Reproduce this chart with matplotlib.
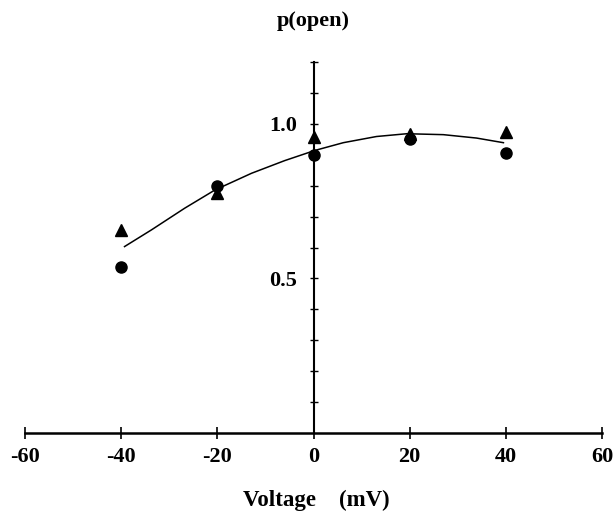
import matplotlib
matplotlib.use("Agg")
import matplotlib.pyplot as plt
import numpy as np

# Dados
voltagem = [-40, -20, 0, 20, 40]
p_triangulo = [0.657, 0.777, 0.957, 0.966, 0.972]
p_circulo = [0.537, 0.800, 0.900, 0.950, 0.907]

# Curva ajustada (pontos lidos ao longo da linha)
curva_v = [-39.3, -33.7, -26.8, -20.5, -12.9, -6.0, 0.3, 6.2, 13.1, 19.4, 27.0, 33.9, 39.5]
curva_p = [0.603, 0.657, 0.727, 0.786, 0.840, 0.881, 0.914, 0.939, 0.959, 0.968, 0.965, 0.954, 0.939]

x_ticks = [-60, -40, -20, 0, 20, 40, 60]
y_ticks = [0.5, 1.0]

plt.rcParams['font.family'] = ['Liberation Serif', 'DejaVu Serif']
plt.rcParams['font.weight'] = 'bold'

fig = plt.figure(figsize=(6.14, 5.12), dpi=100)
W, H = 614, 512
ax = fig.add_axes([25 / W, (H - 433) / H, (602 - 25) / W, (433 - 62) / H])

ax.plot(curva_v, curva_p, color='black', lw=1.1, zorder=2)
ax.plot(voltagem, p_circulo, 'o', color='black', ms=8, zorder=3)
ax.plot(voltagem, p_triangulo, '^', color='black', ms=8, zorder=3)

ax.set_xlim(-60, 60)
ax.set_ylim(0, 1.2)

# Eixos cruzando no zero
ax.spines['left'].set_position(('data', 0))
ax.spines['top'].set_visible(False)
ax.spines['right'].set_visible(False)
ax.spines['bottom'].set_linewidth(1.8)
ax.spines['left'].set_linewidth(1.5)

ax.set_xticks(x_ticks)
ax.set_xticklabels([str(v) for v in x_ticks])
ax.tick_params(axis='x', direction='inout', length=8, width=1.2, pad=6,
               labelsize=16)

ax.set_yticks(np.round(np.arange(0.1, 1.21, 0.1), 2))
ax.set_yticklabels(['' if round(v, 1) not in y_ticks else f'{v:.1f}'
                    for v in np.arange(0.1, 1.21, 0.1)])
ax.tick_params(axis='y', direction='inout', length=6, width=1.0, pad=9,
               labelsize=16)

for lab in ax.get_xticklabels() + ax.get_yticklabels():
    lab.set_fontweight('bold')

fig.text(313 / W, 1 - 21 / H, 'p(open)', ha='center', va='center',
         fontsize=16, fontweight='bold')
fig.text(316 / W, 1 - 500 / H, 'Voltage    (mV)', ha='center', va='center',
         fontsize=16.5, fontweight='bold')

fig.savefig('out.png', dpi=100)
